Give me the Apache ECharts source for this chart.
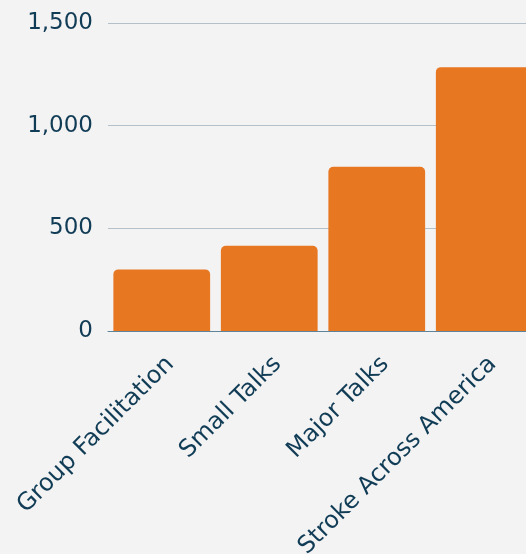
<!DOCTYPE html>
<html>
<head>
<meta charset="utf-8">
<script src="https://cdn.jsdelivr.net/npm/echarts@6/dist/echarts.min.js"></script>
<style>
html, body { margin: 0; padding: 0; background: #f3f3f3; }
#echart { width: 526px; height: 554px; }
</style>
</head>
<body>
<div id="echart"></div>
<script>
// data
var categories = ['Group Facilitation', 'Small Talks', 'Major Talks', 'Stroke Across America'];
var values = [300, 415, 800, 1285];
var yTicks = [0, 500, 1000, 1500];

var textColor = '#113c56';
var myChart = echarts.init(document.getElementById('echart'));
var option = {
	backgroundColor: '#f3f3f3',
	animation: false,
	grid: {
		left: 108,
		width: 430,
		top: 23,
		bottom: 223,
		outerBoundsMode: 'none'
	},
	xAxis: {
		type: 'category',
		data: categories,
		axisLine: {
			show: true,
			lineStyle: { color: '#5f8399', width: 1 }
		},
		axisTick: { show: false },
		axisLabel: {
			rotate: 45,
			margin: 21,
			align: 'right',
			verticalAlign: 'top',
			color: textColor,
			fontFamily: 'DejaVu Sans',
			fontSize: 24
		}
	},
	yAxis: {
		type: 'value',
		min: yTicks[0],
		max: yTicks[yTicks.length - 1],
		interval: 500,
		axisLine: { show: false },
		axisTick: { show: false },
		splitLine: {
			lineStyle: { color: '#b3c0c9', width: 1.2 }
		},
		axisLabel: {
			margin: 15,
			color: textColor,
			fontFamily: 'DejaVu Sans',
			fontSize: 23,
			formatter: function (v) {
				return v.toLocaleString('en-US');
			}
		}
	},
	series: [{
		type: 'bar',
		data: values,
		barCategoryGap: '10%',
		itemStyle: {
			color: '#e87722',
			borderRadius: [5, 5, 0, 0]
		}
	}]
};
myChart.setOption(option);
</script>
</body>
</html>
